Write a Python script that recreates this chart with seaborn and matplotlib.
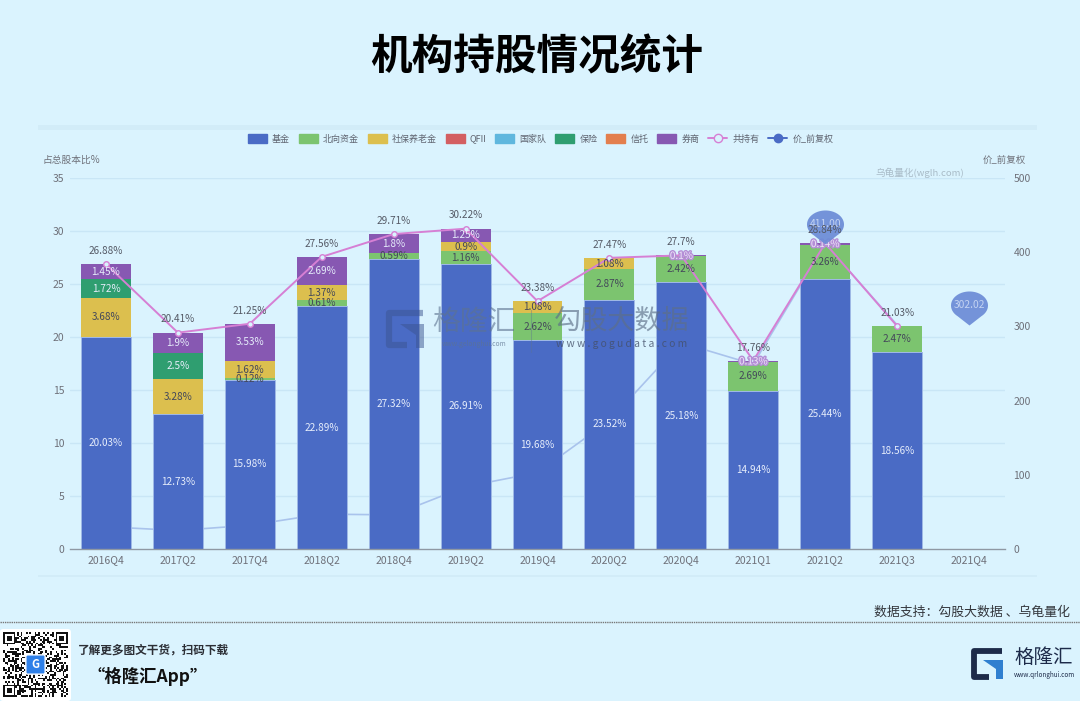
import matplotlib
matplotlib.use("Agg")
import matplotlib.patheffects as pe
import matplotlib.pyplot as plt
import numpy as np
import seaborn as sns
from matplotlib.lines import Line2D
from matplotlib.patches import FancyBboxPatch, Patch, Polygon, Rectangle
from matplotlib.path import Path

quarters = ["2016Q4", "2017Q2", "2017Q4", "2018Q2", "2018Q4", "2019Q2", "2019Q4",
            "2020Q2", "2020Q4", "2021Q1", "2021Q2", "2021Q3", "2021Q4"]
# 2021Q4 has no data yet, so the series stop one short
fund = [20.03, 12.73, 15.98, 22.89, 27.32, 26.91, 19.68, 23.52, 25.18, 14.94, 25.44, 18.56]
north = [0, 0, 0.12, 0.61, 0.59, 1.16, 2.62, 2.87, 2.42, 2.69, 3.26, 2.47]
social = [3.68, 3.28, 1.62, 1.37, 0, 0.9, 1.08, 1.08, 0, 0, 0, 0]
insurance = [1.72, 2.5, 0, 0, 0, 0, 0, 0, 0, 0, 0, 0]
broker = [1.45, 1.9, 3.53, 2.69, 1.8, 1.25, 0, 0, 0.1, 0.13, 0.14, 0]
total = [26.88, 20.41, 21.25, 27.56, 29.71, 30.22, 23.38, 27.47, 27.7, 17.76, 28.84, 21.03]
price = [30, 24.93, 32, 47, 46, 84, 103, 173, 278, 249, 411, 302]
pin_x = ["2021Q2", "2021Q4"]
pin_values = [411.00, 302.02]
legend_names = ["基金", "北向资金", "社保养老金", "QFII", "国家队", "保险", "信托", "券商"]

BG = "#daf3fe"
GREY = "#6e7079"
BLUE = "#4a6bc5"
GREEN = "#7cc46f"
YELLOW = "#dcbf4e"
RED = "#d35f62"
SKY = "#5fb7de"
TEAL = "#2f9e70"
ORANGE = "#e37f4e"
PURPLE = "#8758b2"
PINK = "#d67fd4"
LIGHT = "#e6edfb"
DARK = "#44485a"

sns.set_theme(style="white")
plt.rcParams["font.family"] = ["Noto Sans CJK SC", "DejaVu Sans"]
plt.rcParams["axes.unicode_minus"] = False

W, H = 1080, 701
fig = plt.figure(figsize=(W / 100, H / 100), dpi=100, facecolor=BG)

# plot area in pixels: x 70..1005, y 178..549
ax_price = fig.add_axes([70 / W, 1 - 549 / H, 935 / W, 371 / H], zorder=1)
ax = fig.add_axes([70 / W, 1 - 549 / H, 935 / W, 371 / H], zorder=2)
ax.patch.set_visible(False)
ax_price.set_facecolor(BG)
positions = np.arange(len(fund))

# price line sits behind the bars
sns.lineplot(x=positions, y=price, ax=ax_price, color="#a9c3ec", linewidth=1.2, errorbar=None)
ax_price.set_xlim(-0.5, 12.5)
ax_price.set_ylim(0, 500)
ax_price.set_yticks([0, 100, 200, 300, 400, 500])
ax_price.yaxis.tick_right()
ax_price.set_xticks([])
ax_price.set_ylabel("")
ax_price.tick_params(axis="y", length=0, labelsize=7.5, labelcolor=GREY, pad=6)
for s in ax_price.spines.values():
    s.set_visible(False)

stack = [(fund, BLUE, LIGHT, 0.7), (north, GREEN, DARK, 0), (social, YELLOW, DARK, 0),
         (insurance, TEAL, LIGHT, 0), (broker, PURPLE, LIGHT, 0)]
bottom = np.zeros(len(fund))
for values, color, text_color, edge in stack:
    values = np.array(values, dtype=float)
    sns.barplot(x=quarters[:len(fund)], y=values, bottom=bottom, ax=ax, color=color, saturation=1,
                width=0.695, edgecolor="#9fb9e6", linewidth=edge, order=quarters)
    for i, v in enumerate(values):
        if v > 0:
            label = ax.text(i, bottom[i] + v / 2, f"{v:g}%", ha="center", va="center",
                            fontsize=7.2, color=text_color, zorder=6)
            # the thin broker slices get a halo, as they sit on the line
            if color == PURPLE and v < 0.5:
                label.set_color("#efe6f8")
                label.set_path_effects([pe.withStroke(linewidth=2, foreground="#b48fd6")])
    bottom = bottom + values

# empty segments should not leave an edge line behind
for bar in ax.patches:
    if bar.get_height() == 0:
        bar.set_linewidth(0)

# 共持有 line and its labels
sns.lineplot(x=positions, y=total, ax=ax, color=PINK, linewidth=1.4, errorbar=None, marker="o",
             markersize=4, markerfacecolor=BG, markeredgecolor=PINK, markeredgewidth=1, zorder=5)
for i, v in enumerate(total):
    ax.annotate(f"{v:g}%", (i, v), xytext=(0, 9.5), textcoords="offset points", ha="center",
                va="center", fontsize=7.2, color="#555a66", zorder=10)

ax.set_xlim(-0.5, 12.5)
ax.set_ylim(0, 35)
ax.set_yticks(range(0, 40, 5))
ax.set_ylabel("")
ax.set_xlabel("")
ax.tick_params(axis="y", length=0, labelsize=7.5, labelcolor=GREY, pad=4)
ax.tick_params(axis="x", length=0, labelsize=7.5, labelcolor=GREY, pad=4.5)
ax.set_xticks(np.arange(len(quarters)), quarters)
ax.set_xticks(np.arange(-0.5, 13), minor=True)
ax.tick_params(axis="x", which="minor", length=3.5, color="#8f98a3", width=0.9)
for side in ["top", "left", "right"]:
    ax.spines[side].set_visible(False)
ax.spines["bottom"].set_color("#8f98a3")
ax.spines["bottom"].set_linewidth(1)
for t in range(5, 40, 5):
    ax_price.axhline(t * 500 / 35, color="#c9e6f6", linewidth=1, zorder=0)

# pins for the price high and the latest price
theta = np.linspace(-0.28 * np.pi, 1.28 * np.pi, 40)
pin_verts = np.column_stack([18.5 * np.cos(theta), 20 + 14 * np.sin(theta)])
pin_verts = np.vstack([[0, 0], pin_verts, [0, 0]])
pin = Path(pin_verts)
for name, v in zip(pin_x, pin_values):
    i = quarters.index(name)
    y = v * 35 / 500
    ax.scatter([i], [y], marker=pin, s=2397, color="#6b8bd6", alpha=0.92, linewidths=0, zorder=8)
    ax.annotate(f"{v:.2f}", (i, y), xytext=(0, 14.4), textcoords="offset points", ha="center",
                va="center", fontsize=7.4, color="#c4d3f2", zorder=9)

# everything else is placed in pixel coordinates
page = fig.add_axes([0, 0, 1, 1], zorder=5)
page.set_xlim(0, W)
page.set_ylim(H, 0)
page.axis("off")


def draw_g(x0, y0, w, h, frame_color, wedge_color, lw, alpha=1.0):
    # the G mark: an open frame with a wedge inside
    fx = [x0 + w * 0.97, x0 + w * 0.08, x0 + w * 0.08, x0 + w * 0.55]
    fy = [y0 + h * 0.07, y0 + h * 0.07, y0 + h * 0.93, y0 + h * 0.93]
    page.plot(fx, fy, color=frame_color, lw=lw, alpha=alpha, solid_joinstyle="round",
              solid_capstyle="butt")
    wedge = [(x0 + w * 0.38, y0 + h * 0.36), (x0 + w, y0 + h * 0.36), (x0 + w, y0 + h),
             (x0 + w * 0.78, y0 + h), (x0 + w * 0.78, y0 + h * 0.66)]
    page.add_patch(Polygon(wedge, closed=True, fc=wedge_color, ec="none", alpha=alpha))


page.add_patch(Rectangle((38, 125), 999, 5, color="#d2ecf8", lw=0))
page.add_patch(Rectangle((38, 575), 999, 1.5, color="#d2ecf8", lw=0))
page.plot([0, W], [622, 622], color="#777777", lw=1, ls=(0, (1, 0.6)))

page.text(537, 57, "机构持股情况统计", ha="center", va="center", fontsize=30,
          fontweight="bold", color="black")
page.text(43, 160, "占总股本比%", ha="left", va="center", fontsize=7.0, color=GREY)
page.text(1026, 160, "价_前复权", ha="right", va="center", fontsize=6.8, color=GREY)
page.text(920, 173, "乌龟量化(wglh.com)", ha="center", va="center", fontsize=6.9, color="#a9bcc8")

handles = [Patch(facecolor=c, edgecolor=c, linewidth=1, joinstyle="round")
           for c in [BLUE, GREEN, YELLOW, RED, SKY, TEAL, ORANGE, PURPLE]]
handles.append(Line2D([], [], color=PINK, lw=1.4, marker="o", ms=6, mfc=BG, mec=PINK))
handles.append(Line2D([], [], color=BLUE, lw=1.4, marker="o", ms=6, mfc=BLUE, mec=BLUE))
fig.legend(handles, legend_names + ["共持有", "价_前复权"], ncol=10, frameon=False,
           loc="center", bbox_to_anchor=(540.5 / W, 1 - 139 / H), fontsize=6.5,
           labelcolor="#5f6470", handlelength=2.1, handleheight=1.0, handletextpad=0.55,
           columnspacing=1.0, borderpad=0)

# watermark
draw_g(386, 310, 38, 38, "#3c5490", "#3c5490", 4.5, alpha=0.5)
page.text(474, 322, "格隆汇", ha="center", va="center", fontsize=20, color="#5d7390", alpha=0.6)
page.text(474, 344, "www.gelonghui.com", ha="center", va="center", fontsize=4.8, color="#5d7390", alpha=0.75)
page.plot([531, 531], [310, 352], color="#5d7390", alpha=0.4, lw=0.8)
page.text(622, 321, "勾股大数据", ha="center", va="center", fontsize=19.5, color="#5d6f88", alpha=0.65)
page.text(622, 344, "w w w . g o g u d a t a . c o m", ha="center", va="center", fontsize=7.4,
          color="#44506a", alpha=0.8)

# footer
page.text(1070, 612, "数据支持：勾股大数据 、乌龟量化", ha="right", va="center", fontsize=9.3, color="#33363c")
page.text(78, 650, "了解更多图文干货，扫码下载", ha="left", va="center", fontsize=8.4,
          fontweight="bold", color="#2c2f36")
page.text(88, 676, "“格隆汇App”", ha="left", va="center", fontsize=12.5, fontweight="bold",
          color="#111111")
draw_g(971, 649, 32, 30, "#1d2b4a", "#2f7fd0", 4.2)
page.text(1044, 657, "格隆汇", ha="center", va="center", fontsize=14, fontweight="medium", color="#1d2b4a")
page.text(1044, 675, "www.qrlonghui.com", ha="center", va="center", fontsize=4.6, color="#1d2b4a")

# QR block, not decodable, just a deterministic texture
n = 37
ii, jj = np.meshgrid(np.arange(n), np.arange(n))
qr = (((ii * 7 + jj * 11) ^ (ii * jj)) % 5 < 2).astype(float)
for r, c in [(0, 0), (0, n - 7), (n - 7, 0)]:
    qr[r:r + 7, c:c + 7] = 1
    qr[r + 1:r + 6, c + 1:c + 6] = 0
    qr[r + 2:r + 5, c + 2:c + 5] = 1
page.add_patch(FancyBboxPatch((0, 629), 71, 72, boxstyle="round,pad=0,rounding_size=3", fc="white", ec="none"))
ax_qr = fig.add_axes([3 / W, 1 - 697 / H, 65 / W, 65 / H], zorder=6)
sns.heatmap(qr, ax=ax_qr, cmap=["white", "#111111"], cbar=False, xticklabels=False, yticklabels=False)
ax_qr.add_patch(FancyBboxPatch((13, 13), 11, 11, boxstyle="round,pad=0,rounding_size=1", fc="#2f80e8", ec="white", lw=1))
ax_qr.text(18.5, 18.5, "G", ha="center", va="center", fontsize=8, fontweight="bold", color="white")

fig.savefig("out.png", dpi=100, facecolor=BG)
